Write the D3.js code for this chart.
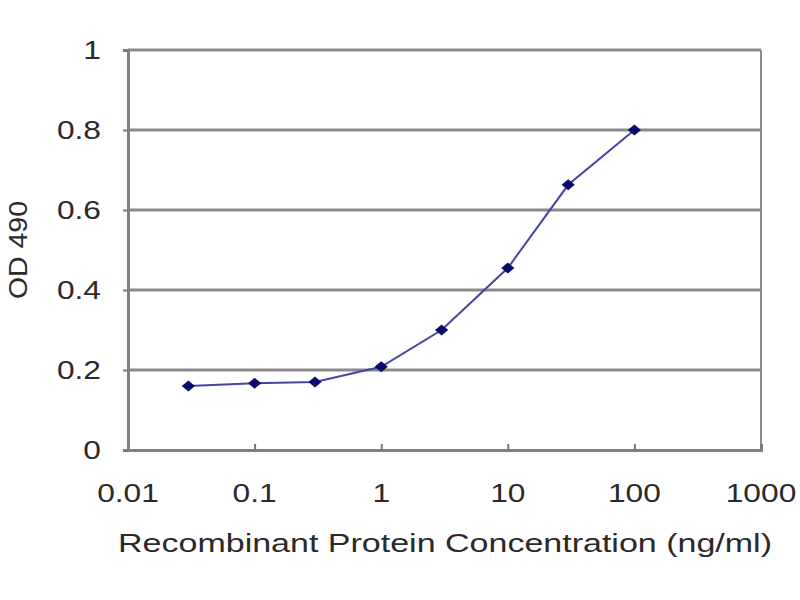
<!DOCTYPE html>
<html>
<head>
<meta charset="utf-8">
<script src="https://d3js.org/d3.v7.min.js"></script>
<style>
  body { margin: 0; background: #fff; }
  text { font-family: "Liberation Sans", Arial, sans-serif; fill: #2a2a2a; }
</style>
</head>
<body>
<svg id="chart" width="800" height="600"></svg>
<script>
// concentrations (ng/ml) and OD readings
var conc = [0.03, 0.1, 0.3, 1, 3, 10, 30, 100];
var od = [0.16, 0.167, 0.17, 0.208, 0.30, 0.455, 0.663, 0.80];
var xTicks = [0.01, 0.1, 1, 10, 100, 1000];
var yTicks = [0, 0.2, 0.4, 0.6, 0.8, 1];

var svg = d3.select("#chart");
var pLeft = 128, pRight = 761, pTop = 50, pBottom = 450;
var stretch = 1.22; // labels in the picture are wider than the font

var x = d3.scaleLog().domain([0.01, 1000]).range([pLeft, pRight]);
var y = d3.scaleLinear().domain([0, 1]).range([pBottom, pTop]);

// horizontal grid lines
svg.append("g").selectAll("line")
  .data(yTicks.filter(function (d) { return d > 0; }))
  .enter().append("line")
  .attr("x1", pLeft).attr("x2", pRight)
  .attr("y1", function (d) { return y(d); })
  .attr("y2", function (d) { return y(d); })
  .attr("stroke", "#8a8a8a").attr("stroke-width", 3);

// right border
svg.append("line")
  .attr("x1", pRight).attr("x2", pRight).attr("y1", pTop).attr("y2", pBottom)
  .attr("stroke", "#8a8a8a").attr("stroke-width", 2);

// x axis
var xAxis = svg.append("g")
  .attr("transform", "translate(0," + pBottom + ")")
  .call(d3.axisTop(x).tickValues(xTicks).tickSize(6).tickFormat(""));
xAxis.selectAll("line").attr("stroke", "#777").attr("stroke-width", 2);
xAxis.select(".domain").attr("stroke", "#808080").attr("stroke-width", 3);

svg.append("g").selectAll("text")
  .data(xTicks).enter().append("text")
  .attr("transform", function (d) { return "translate(" + x(d) + ",502) scale(" + stretch + ",1)"; })
  .attr("text-anchor", "middle")
  .attr("font-size", 26)
  .text(function (d) { return d; });

// y axis
var yAxis = svg.append("g")
  .attr("transform", "translate(" + pLeft + ",0)")
  .call(d3.axisLeft(y).tickValues(yTicks).tickSize(5).tickFormat(""));
yAxis.selectAll("line").attr("stroke", "#777").attr("stroke-width", 2);
yAxis.select(".domain").attr("stroke", "#808080").attr("stroke-width", 3);

svg.append("g").selectAll("text")
  .data(yTicks).enter().append("text")
  .attr("transform", function (d) { return "translate(101," + (y(d) + 9) + ") scale(" + stretch + ",1)"; })
  .attr("text-anchor", "end")
  .attr("font-size", 26)
  .text(function (d) { return d; });

// axis titles
svg.append("text")
  .attr("transform", "translate(27,250) rotate(-90)")
  .attr("text-anchor", "middle")
  .attr("font-size", 26)
  .attr("textLength", 98)
  .attr("lengthAdjust", "spacingAndGlyphs")
  .text("OD 490");

svg.append("text")
  .attr("x", 445).attr("y", 552)
  .attr("text-anchor", "middle")
  .attr("font-size", 26)
  .attr("textLength", 654)
  .attr("lengthAdjust", "spacingAndGlyphs")
  .text("Recombinant Protein Concentration (ng/ml)");

// series
var pts = conc.map(function (c, i) { return [c, od[i]]; });
var line = d3.line()
  .x(function (d) { return x(d[0]); })
  .y(function (d) { return y(d[1]); });

svg.append("path")
  .datum(pts)
  .attr("d", line)
  .attr("fill", "none")
  .attr("stroke", "#4545a5")
  .attr("stroke-width", 2);

svg.append("g").selectAll("path")
  .data(pts).enter().append("path")
  .attr("transform", function (d) { return "translate(" + x(d[0]) + "," + y(d[1]) + ") scale(1.2,1) rotate(45)"; })
  .attr("d", d3.symbol().type(d3.symbolSquare).size(60))
  .attr("fill", "#0a0a6a");
</script>
</body>
</html>
